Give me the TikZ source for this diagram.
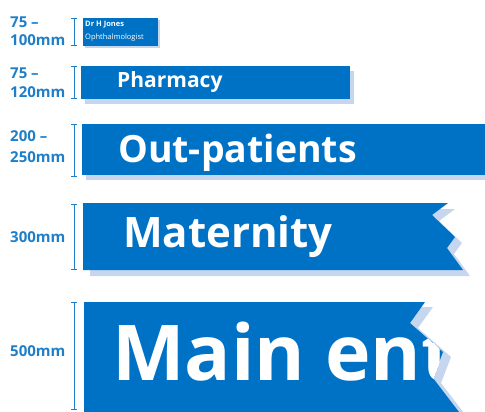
\documentclass[tikz,border=0pt]{standalone}
\usepackage{fontspec}
\setmainfont{Open Sans}
\usetikzlibrary{arrows.meta}
\usetikzlibrary{shadows}
\usetikzlibrary{positioning}
\definecolor{signblue}{HTML}{0072C6}
\definecolor{shadowblue}{HTML}{C5D6EE}
\definecolor{labelblue}{HTML}{1E7FC8}

\tikzset{
  signbox/.style={fill=signblue, inner sep=0pt, anchor=north west},
  signshadow/.style 2 args={general shadow={shadow xshift=#1, shadow yshift=#2, fill=shadowblue}},
  signtext/.style={text=white, inner sep=0pt, anchor=base west},
  sizelabel/.style={text=labelblue, font=\bfseries\fontsize{15}{15}\selectfont, inner sep=0pt, anchor=base west},
  sizebar/.style={draw=labelblue, line width=1pt, {Bar[width=6pt]}-{Bar[width=6pt]}}
}

\begin{document}
\begin{tikzpicture}[x=1pt,y=-1pt]
\clip (0,0) rectangle (485,412);
\coordinate (barx) at (74,0);

% door plate
\node[signbox, minimum width=75pt, minimum height=28pt, signshadow={2pt}{-2pt}] (jones) at (83,18) {};
\node[signtext, font=\bfseries\fontsize{7.5}{7.5}\selectfont] (jonesname) at (85,27) {Dr H Jones};
\node[signtext, font=\fontsize{7.5}{7.5}\selectfont] (jonesjob) at (85,40) {Ophthalmologist};
\draw[sizebar] (jones.north -| barx) -- (jones.south -| barx);
\node[sizelabel] (jonesmin) at (10,28) {75 --};
\node[sizelabel] (jonesmax) at (10,46) {100mm};

\node[signbox, minimum width=269pt, minimum height=33pt, signshadow={4pt}{-5pt}] (pharm) at (81,66) {};
\node[signtext, font=\bfseries\fontsize{21}{21}\selectfont] (pharmtext) at (117,88) {Pharmacy};
\draw[sizebar] (pharm.north -| barx) -- (pharm.south -| barx);
\node[sizelabel] (pharmmin) at (10,78) {75 --};
\node[sizelabel] (pharmmax) at (10,98) {120mm};

\node[signbox, minimum width=420pt, minimum height=51pt, signshadow={4pt}{-5pt}] (outp) at (82,124) {};
\node[signtext, font=\bfseries\fontsize{37.5}{37.5}\selectfont] (outptext) at (118,162) {Out-patients};
\draw[sizebar] (outp.north -| barx) -- ([yshift=-2pt]outp.south -| barx);
\node[sizelabel] (outpmin) at (10,142) {200 --};
\node[sizelabel] (outpmax) at (10,162) {250mm};

% torn signs
\fill[signblue, signshadow={7pt}{-6pt}] (83,203) coordinate (matnw) -- (448,203) -- (432,215) -- (455,237)
  -- (447,248) -- (463,270) -- (83,270) coordinate (matsw) -- cycle;
\node[signtext, font=\bfseries\fontsize{42}{42}\selectfont] (mattext) at (123,247) {Maternity};
\draw[sizebar] ([yshift=-1pt]matnw -| barx) -- (matsw -| barx);
\node[sizelabel] (matlabel) at (10,242) {300mm};

\fill[signblue, signshadow={8pt}{-5pt}] (84,302) coordinate (mainnw) -- (425,302) coordinate (mainne)
  -- (410,323) coordinate (maina) -- (443,352) coordinate (mainb) -- (433,378) coordinate (mainc)
  -- (462,416) coordinate (mainse) -- (84,416) coordinate (mainsw) -- cycle;
\begin{scope}
\clip (mainnw) -- (mainne) -- (maina) -- (mainb) -- (mainc) -- (mainse) -- (mainsw) -- cycle;
\node[signtext, font=\bfseries\fontsize{77}{77}\selectfont] (maintext) at (112,380) {Main entrance};
\end{scope}
\draw[sizebar] (mainnw -| barx) -- ([yshift=6pt]mainsw -| barx);
\node[sizelabel] (mainlabel) at (10,356) {500mm};
\end{tikzpicture}
\end{document}
